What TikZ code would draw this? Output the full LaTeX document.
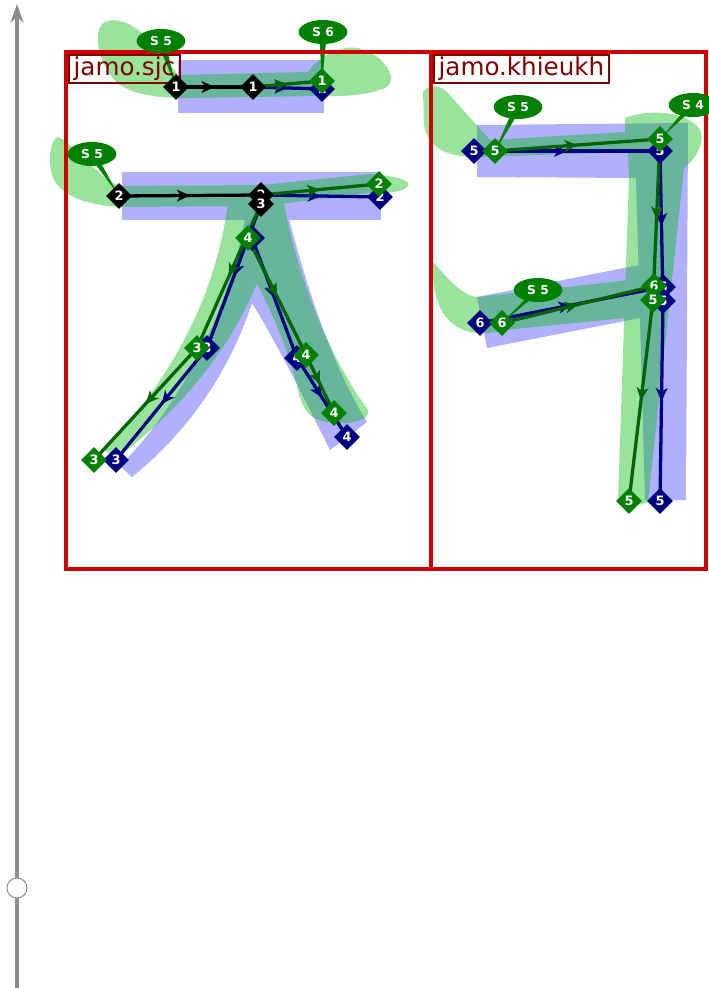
\documentclass[tikz,border=0pt]{standalone}
\usepackage{fontspec}
\setmainfont{DejaVu Sans}
\usetikzlibrary{arrows.meta, calc, shapes.geometric, backgrounds, decorations.markings}
\definecolor{lblue}{RGB}{176,176,255}
\definecolor{pgreen}{RGB}{0,186,8}
\definecolor{dgreen}{RGB}{0,128,0}
\definecolor{sgreen}{RGB}{0,100,0}
\definecolor{navy}{RGB}{0,0,128}
\definecolor{frame}{RGB}{204,0,0}
\definecolor{lblred}{RGB}{128,0,0}
\definecolor{tlgray}{RGB}{140,140,140}
\tikzset{
  mk/.style={diamond, minimum width=0.78cm, minimum height=0.78cm, inner sep=0pt,
    text=white, font=\fontsize{11}{11}\selectfont\bfseries},
  kmk/.style={mk, fill=black},
  gmk/.style={mk, fill=dgreen},
  bmk/.style={mk, fill=navy},
  stag/.style={ellipse, fill=dgreen, minimum width=1.46cm, minimum height=0.72cm,
    inner sep=0pt, text=white, font=\fontsize{10.5}{10.5}\selectfont\bfseries},
  seg/.style={line width=2.8pt, postaction={decorate},
    decoration={markings, mark=at position 0.5 with {\arrow{Stealth[length=11pt,width=10pt,inset=3pt]}}}},
  kseg/.style={seg, black},
  gseg/.style={seg, sgreen},
  bseg/.style={seg, navy},
  glyphlbl/.style={draw=lblred, line width=1.6pt, text=lblred, anchor=north west,
    inner xsep=4pt, inner ysep=2pt, font=\fontsize{21}{21}\selectfont},
  frm/.style={draw=frame, line width=2.6pt},
}
\begin{document}
\begin{tikzpicture}[x=0.03cm, y=-0.03cm]
\useasboundingbox (0,0) rectangle (709,988);
\begin{scope}[on background layer]
  \fill[white] (0,0) rectangle (709,988);
  % outlines of the two glyphs
  \fill[lblue] (178,60) rectangle (324,113);
  \fill[lblue] (122,172) rectangle (381,220);
  \fill[lblue] (246,215) -- (288,215) .. controls (310,300) and (335,370) .. (367,422)
    -- (330,450) .. controls (300,390) and (275,340) .. (252,303)
    .. controls (230,370) and (190,430) .. (132,477) -- (120,466)
    .. controls (185,400) and (228,310) .. (246,215) -- cycle;
  \fill[lblue] (477,125) -- (688,123) -- (686,500) -- (645,500) -- (636,178) -- (477,177) -- cycle;
  \fill[lblue] (477,297) -- (629,267) -- (640,265) -- (640,318) -- (487,348) -- cycle;
  \fill[pgreen, fill opacity=0.4]
    (105,22) .. controls (130,12) and (155,45) .. (178,75) -- (308,72)
      .. controls (320,55) and (345,42) .. (365,50) .. controls (385,58) and (400,80) .. (385,88)
      .. controls (370,95) and (340,97) .. (320,96) -- (185,98)
      .. controls (160,98) and (135,95) .. (120,85) .. controls (100,70) and (90,30) .. (105,22) -- cycle
    (58,137) .. controls (70,140) and (100,180) .. (120,186) -- (262,185) -- (370,174)
      .. controls (395,176) and (412,180) .. (408,186) .. controls (404,192) and (385,194) .. (372,193)
      -- (262,206) -- (120,207) .. controls (90,205) and (60,198) .. (52,175)
      .. controls (48,160) and (50,140) .. (58,137) -- cycle
    (228,203) -- (284,203) .. controls (300,290) and (335,365) .. (368,410)
      .. controls (372,425) and (325,428) .. (310,415) .. controls (300,405) and (298,390) .. (297,385)
      .. controls (285,340) and (270,310) .. (257,283) .. controls (230,350) and (180,410) .. (118,457)
      -- (104,450) .. controls (170,380) and (215,300) .. (228,203) -- cycle
    (423,92) .. controls (428,84) and (440,85) .. (447,92) -- (490,140) -- (625,132) -- (625,118)
      .. controls (650,108) and (690,112) .. (700,130) .. controls (706,142) and (695,160) .. (684,168)
      -- (648,502) .. controls (640,506) and (622,506) .. (618,500) -- (629,178) -- (628,152)
      -- (477,157) .. controls (450,157) and (428,150) .. (424,125) -- cycle
    (433,262) .. controls (445,275) and (460,295) .. (477,297) -- (630,280) -- (635,317)
      -- (505,330) .. controls (470,340) and (430,330) .. (433,262) -- cycle;
\end{scope}
% time line
\coordinate (tlbot) at (17,988);
\coordinate (tltop) at (17,4);
\draw[tlgray, line width=3.5pt, -{Stealth[length=16pt,width=11pt]}] (tlbot) -- (tltop);
\node[circle, draw=tlgray, fill=white, line width=0.8pt, minimum size=0.6cm, inner sep=0pt] (knob) at (17,888) {};
% glyph frames
\draw[frm] (66,52) rectangle (431,569);
\draw[frm] (431,52) rectangle (706,569);
\node[glyphlbl] (sjc) at (68,54) {jamo.sjc};
\node[glyphlbl] (khieukh) at (433,54) {jamo.khieukh};
% points of jamo.sjc
\node[bmk] (B1) at (322,89) {1};
\node[bmk] (B2) at (380,197) {2};
\node[bmk] (B3a) at (207,348) {3};
\node[bmk] (B3b) at (116,460) {3};
\node[bmk] (B4) at (252,238) {4};
\node[bmk] (B4a) at (297,358) {4};
\node[bmk] (B4b) at (347,437) {4};
\node[gmk] (G1) at (322,81) {1};
\node[gmk] (G2) at (379,184) {2};
\node[gmk] (G3a) at (197,348) {3};
\node[gmk] (G3b) at (94,460) {3};
\node[gmk] (G4) at (248,238) {4};
\node[gmk] (G4a) at (306,355) {4};
\node[gmk] (G4b) at (334,413) {4};
\node[kmk] (K1a) at (176,87) {1};
\node[kmk] (K1b) at (253,87) {1};
\node[kmk] (K2a) at (119,196) {2};
\node[kmk] (K2b) at (261,195) {2};
\node[kmk] (K3) at (261,204) {3};
% points of jamo.khieukh
\node[bmk] (B5a) at (474,151) {5};
\node[bmk] (B5b) at (660,151) {5};
\node[bmk] (B6b) at (663,287) {6};
\node[bmk] (B5c) at (663,301) {5};
\node[bmk] (B5d) at (660,501) {5};
\node[bmk] (B6a) at (480,323) {6};
\node[gmk] (G5a) at (495,151) {5};
\node[gmk] (G5b) at (660,139) {5};
\node[gmk] (G6b) at (654,286) {6};
\node[gmk] (G5c) at (653,300) {5};
\node[gmk] (G5d) at (629,501) {5};
\node[gmk] (G6a) at (502,323) {6};
% stroke tags
\node[stag] (C1) at (161,41) {S 5};
\node[stag] (C2) at (323,32) {S 6};
\node[stag] (C3) at (92,154) {S 5};
\node[stag] (C4) at (518,107) {S 5};
\node[stag] (C5) at (693,105) {S 4};
\node[stag] (C6) at (538,290) {S 5};
\begin{scope}[on background layer]
  \draw[bseg] (K1b.center) -- (B1.center);
  \draw[gseg] (K1b.center) -- (G1.center);
  \draw[kseg] (K1a.center) -- (K1b.center);
  \draw[bseg] (K2b.center) -- (B2.center);
  \draw[gseg] (K2b.center) -- (G2.center);
  \draw[kseg] (K2a.center) -- (K2b.center);
  \draw[bseg] (K3.center) -- (B3a.center);
  \draw[bseg] (B3a.center) -- (B3b.center);
  \draw[gseg] (K3.center) -- (G3a.center);
  \draw[gseg] (G3a.center) -- (G3b.center);
  \draw[bseg] (B4.center) -- (B4a.center);
  \draw[bseg] (B4a.center) -- (B4b.center);
  \draw[gseg] (G4.center) -- (G4a.center);
  \draw[gseg] (G4a.center) -- (G4b.center);
  \draw[bseg] (B5a.center) -- (B5b.center);
  \draw[bseg] (B5b.center) -- (B5c.center);
  \draw[bseg] (B5c.center) -- (B5d.center);
  \draw[bseg] (B6a.center) -- (B6b.center);
  \draw[gseg] (G5a.center) -- (G5b.center);
  \draw[gseg] (G5b.center) -- (G5c.center);
  \draw[gseg] (G5c.center) -- (G5d.center);
  \draw[gseg] (G6a.center) -- (G6b.center);
  % tails of the tags
  \foreach \c/\p in {C1/K1a, C2/G1, C3/K2a, C4/G5a, C5/G5b, C6/G6a}
    \fill[dgreen] ($(\c.center)+(-4,0)$) -- (\p.center) -- ($(\c.center)+(4,0)$) -- cycle;
\end{scope}
\end{tikzpicture}
\end{document}
